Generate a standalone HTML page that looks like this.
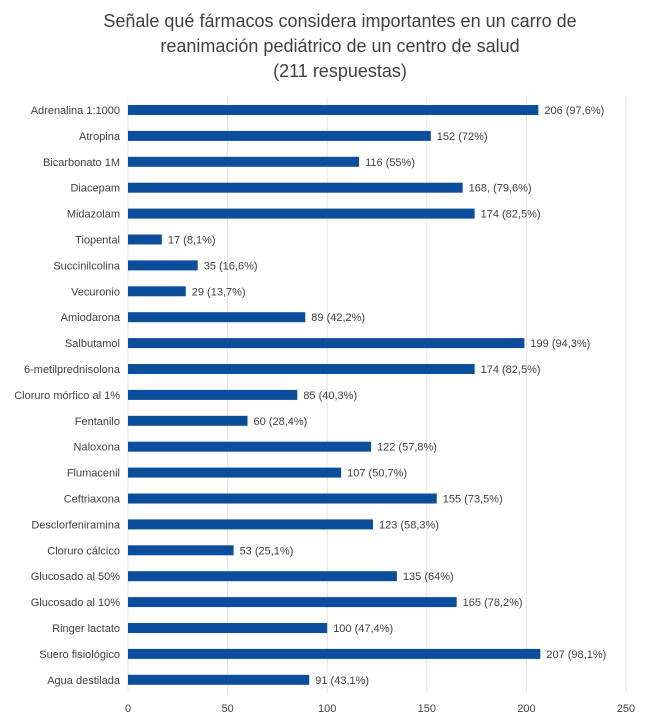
<!DOCTYPE html>
<html><head><meta charset="utf-8"><style>
body{margin:0;background:#fff;font-family:"Liberation Sans",sans-serif}
svg text{font-family:"Liberation Sans",sans-serif}
</style></head><body>
<svg id="chart" width="650" height="722" xmlns="http://www.w3.org/2000/svg">
<rect width="650" height="722" fill="#fff"/>
<g font-size="18" fill="#404040" text-anchor="middle">
<text x="340" y="27">Señale qué fármacos considera importantes en un carro de</text>
<text x="340" y="52">reanimación pediátrico de un centro de salud</text>
<text x="340" y="77">(211 respuestas)</text>
</g>
<g id="grid"></g><g id="bars"></g><g id="xticks"></g>
</svg>
<script>
const categories=["Adrenalina 1:1000","Atropina","Bicarbonato 1M","Diacepam","Midazolam","Tiopental","Succinilcolina","Vecuronio","Amiodarona","Salbutamol","6-metilprednisolona","Cloruro mórfico al 1%","Fentanilo","Naloxona","Flumacenil","Ceftriaxona","Desclorfeniramina","Cloruro cálcico","Glucosado al 50%","Glucosado al 10%","Ringer lactato","Suero fisiológico","Agua destilada"];
const values=[206,152,116,168,174,17,35,29,89,199,174,85,60,122,107,155,123,53,135,165,100,207,91];
const valueLabels=["206 (97,6%)","152 (72%)","116 (55%)","168, (79,6%)","174 (82,5%)","17 (8,1%)","35 (16,6%)","29 (13,7%)","89 (42,2%)","199 (94,3%)","174 (82,5%)","85 (40,3%)","60 (28,4%)","122 (57,8%)","107 (50,7%)","155 (73,5%)","123 (58,3%)","53 (25,1%)","135 (64%)","165 (78,2%)","100 (47,4%)","207 (98,1%)","91 (43,1%)"];
const ticks=[0,50,100,150,200,250];
const NS="http://www.w3.org/2000/svg";
const x0=128,x1=626,maxV=250,yTop=110,step=25.9,bh=10;
const xs=v=>x0+(v/maxV)*(x1-x0);
const ys=i=>yTop+i*step;
function mk(t,a,p){const e=document.createElementNS(NS,t);for(const k in a)e.setAttribute(k,a[k]);p.appendChild(e);return e;}
const grid=document.getElementById('grid'),bars=document.getElementById('bars'),xt=document.getElementById('xticks');
ticks.forEach(t=>{
 const l=mk('line',{x1:xs(t),x2:xs(t),y1:97,y2:693,stroke:'#e4e4e4','stroke-width':1},grid);
 
 
 const tx=mk('text',{x:xs(t),y:712,'font-size':11,fill:'#404040','text-anchor':'middle'},xt);
 tx.textContent=t;
 
 
});
categories.forEach((c,i)=>{
 const y=ys(i);
 const lab=mk('text',{x:120,y:y+4,'font-size':11,fill:'#404040','text-anchor':'end'},bars);
 lab.textContent=c;
 
 
 const r=mk('rect',{x:x0,y:y-bh/2,width:xs(values[i])-x0,height:bh,fill:'#0b4e9c'},bars);
 
 
 const v=mk('text',{x:xs(values[i])+6,y:y+4,'font-size':11,fill:'#404040'},bars);
 v.textContent=valueLabels[i];
 
 
});
</script>
</body></html>
